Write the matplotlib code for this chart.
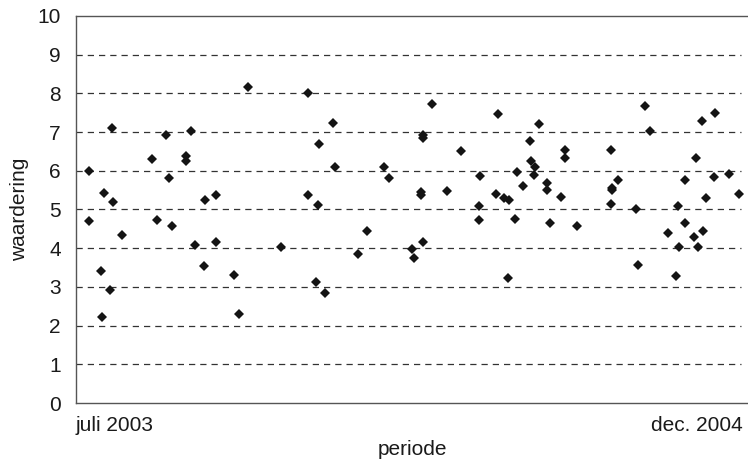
import matplotlib.pyplot as plt

plt.rcParams['font.family'] = ['Liberation Sans', 'DejaVu Sans']

# maanden sinds juli 2003 en waardering per meting
maand = [4.62, 0.96, 2.40, 3.07, 2.04, 2.95, 2.95, 0.34, 2.50, 0.76,
         0.99, 3.45, 3.74, 0.35, 2.17, 2.58, 1.22, 3.19, 3.74, 0.66,
         3.42, 4.22, 0.92, 0.69, 4.37,
         6.21, 6.88, 6.51, 6.95, 8.25, 8.39, 6.21, 6.48, 7.79, 5.49,
         7.55, 9.01, 9.06, 6.42, 6.68,
         9.54, 11.30, 12.40, 9.30, 9.30, 12.17, 10.32, 13.11, 13.11, 12.20,
         12.30, 10.81, 11.82, 12.26, 9.24, 9.24, 9.93, 11.97, 12.62, 12.62,
         11.25, 11.47, 11.60, 12.98, 10.79, 10.79, 11.77, 12.69, 13.41, 9.30,
         11.56,
         15.25, 17.12, 16.77, 15.38, 14.33, 16.60, 14.53, 16.30, 17.09, 17.48,
         14.37, 14.37, 17.75, 14.33, 16.88, 14.99, 16.13, 16.30, 15.87, 16.80,
         16.56, 16.16, 16.65, 15.05, 16.06]
waardering = [8.17, 7.11, 6.93, 7.03, 6.30, 6.38, 6.26, 5.99, 5.81, 5.42,
              5.20, 5.25, 5.37, 4.69, 4.72, 4.58, 4.33, 4.09, 4.15, 3.42,
              3.55, 3.30, 2.91, 2.22, 2.30,
              8.00, 7.23, 6.68, 6.10, 6.09, 5.82, 5.38, 5.11, 4.45, 4.02,
              3.86, 3.97, 3.75, 3.13, 2.83,
              7.73, 7.48, 7.21, 6.92, 6.86, 6.76, 6.51, 6.55, 6.33, 6.25,
              6.09, 5.87, 5.97, 5.88, 5.45, 5.38, 5.49, 5.61, 5.69, 5.51,
              5.39, 5.29, 5.25, 5.33, 5.09, 4.72, 4.76, 4.66, 4.57, 4.15,
              3.23,
              7.68, 7.49, 7.29, 7.02, 6.55, 6.33, 5.76, 5.77, 5.84, 5.92,
              5.56, 5.50, 5.41, 5.15, 5.29, 5.02, 5.09, 4.66, 4.39, 4.45,
              4.30, 4.03, 4.03, 3.56, 3.29]

x_labels = ['juli 2003', 'dec. 2004']

fig = plt.figure(figsize=(7.48, 4.61), dpi=100)
ax = fig.add_axes([76 / 748, 1 - 403 / 461, 672 / 748, 387 / 461])

ax.plot(maand, waardering, linestyle='none', marker='D', markersize=4.8,
        color='#141414', markeredgewidth=0)

ax.set_xlim(0, 18)
ax.set_ylim(0, 10)
ax.set_yticks(range(0, 11))
ax.set_xticks([0, 17.87])
ax.set_xticklabels(x_labels)
ax.get_xticklabels()[0].set_ha('left')
ax.get_xticklabels()[1].set_ha('right')

for y in range(1, 10):
    ax.axhline(y, xmax=0.99, color='#333333', linewidth=0.9,
               linestyle=(0, (5, 4)), zorder=0)

ax.tick_params(axis='both', length=0, labelsize=15, colors='#1a1a1a')
ax.tick_params(axis='y', pad=11)
ax.tick_params(axis='x', pad=9)

for side in ['left', 'bottom', 'top']:
    ax.spines[side].set_color('#555555')
    ax.spines[side].set_linewidth(1.0)
ax.spines['right'].set_visible(False)

ax.set_ylabel('waardering', fontsize=15, color='#1a1a1a', labelpad=6)
ax.set_xlabel('periode', fontsize=15, color='#1a1a1a', labelpad=4)

fig.savefig('out.png', dpi=100)
